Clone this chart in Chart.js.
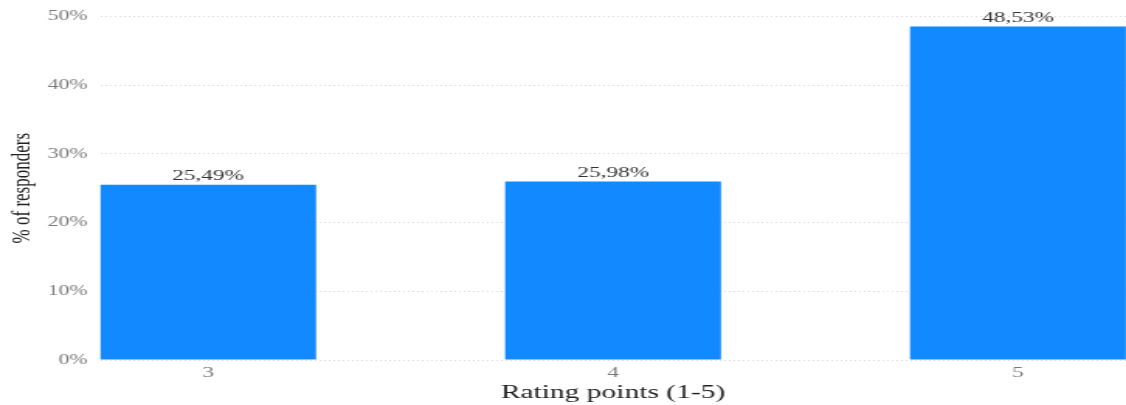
<!DOCTYPE html>
<html>
<head>
<meta charset="utf-8">
<script src="https://cdn.jsdelivr.net/npm/chart.js@4/dist/chart.umd.min.js"></script>
<style>
  html, body { margin: 0; padding: 0; background: #fff; overflow: hidden; }
  /* the source picture is stretched sideways, so draw narrow and widen it */
  #wrap { width: 726px; height: 405px; transform: scaleX(1.551); transform-origin: 0 0; }
</style>
</head>
<body>
<div id="wrap"><canvas id="chart" width="726" height="405"></canvas></div>
<script>
// rating points shown and share of responders (%)
var ratings = [3, 4, 5];
var shares = [25.49, 25.98, 48.53];
var yTicks = [0, 10, 20, 30, 40, 50];

var serif = "'Liberation Serif', 'Times New Roman', serif";

var valueLabels = {
  id: 'valueLabels',
  afterDatasetsDraw: function(chart) {
    var ctx = chart.ctx;
    var meta = chart.getDatasetMeta(0);
    ctx.save();
    ctx.font = "15px " + serif;
    ctx.fillStyle = "#333";
    ctx.textAlign = "center";
    ctx.textBaseline = "bottom";
    meta.data.forEach(function(bar, i) {
      var text = shares[i].toFixed(2).replace('.', ',') + '%';
      ctx.fillText(text, bar.x, bar.y - 1);
    });
    ctx.restore();
  }
};

new Chart(document.getElementById('chart'), {
  type: 'bar',
  data: {
    datasets: [{
      data: ratings.map(function(r, i) { return { x: r, y: shares[i] }; }),
      backgroundColor: '#1289ff',
      borderWidth: 0,
      barPercentage: 0.533,
      categoryPercentage: 1
    }]
  },
  options: {
    responsive: false,
    animation: false,
    devicePixelRatio: 1,
    layout: { padding: { top: 16, right: 0, bottom: 0, left: 0 } },
    plugins: {
      legend: { display: false },
      tooltip: { enabled: false }
    },
    scales: {
      x: {
        type: 'linear',
        offset: false,
        min: 2.733,
        max: 5.267,
        afterBuildTicks: function(scale) {
          scale.ticks = ratings.map(function(v) { return { value: v }; });
        },
        afterFit: function(scale) { scale.height = 45; },
        grid: { display: false, drawTicks: false },
        border: { display: false },
        ticks: {
          padding: 4,
          color: '#7a7a7a',
          font: { family: serif, size: 15 },
          maxRotation: 0,
          callback: function(v) { return String(v); }
        },
        title: {
          display: true,
          text: 'Rating points (1-5)',
          color: '#222',
          font: { family: serif, size: 19 },
          padding: { top: 0, bottom: 1 }
        }
      },
      y: {
        min: 0,
        max: 50,
        afterBuildTicks: function(scale) {
          scale.ticks = yTicks.map(function(v) { return { value: v }; });
        },
        afterFit: function(scale) { scale.width = 64.5; },
        grid: {
          color: '#d8d8d8',
          lineWidth: 1,
          drawTicks: false
        },
        border: { display: false, dash: [1, 2] },
        ticks: {
          padding: 8,
          color: '#7a7a7a',
          font: { family: serif, size: 14 },
          callback: function(v) { return v + '%'; }
        },
        title: {
          display: true,
          text: '% of responders',
          color: '#222',
          font: { family: serif, size: 17 },
          padding: { top: 4, bottom: 0 }
        }
      }
    }
  },
  plugins: [valueLabels]
});
</script>
</body>
</html>
